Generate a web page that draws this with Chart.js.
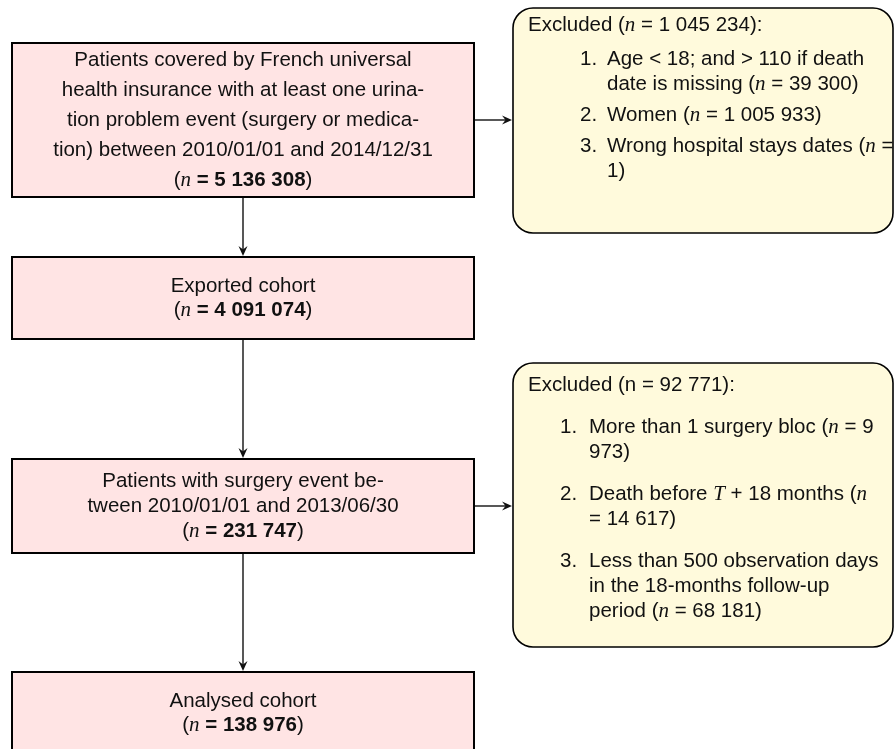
<!DOCTYPE html>
<html><head><meta charset="utf-8">
<script src="https://cdn.jsdelivr.net/npm/chart.js@4"></script>
<style>html,body{margin:0;padding:0;background:#fff}canvas{display:block}</style>
</head><body>
<canvas id="c" width="895" height="749"></canvas>
<script>
// ---- data ----
const stageTitles = [
  ["Patients covered by French universal", "health insurance with at least one urina-", "tion problem event (surgery or medica-", "tion) between 2010/01/01 and 2014/12/31"],
  ["Exported cohort"],
  ["Patients with surgery event be-", "tween 2010/01/01 and 2013/06/30"],
  ["Analysed cohort"]
];
const stageCounts = [5136308, 4091074, 231747, 138976];
const exclusionHeaders = ["Excluded ($n$ = {}):", "Excluded (n = {}):"];
const exclusionTotals = [1045234, 92771];
const exclusionItems = [
  [["Age < 18; and > 110 if death", "date is missing ($n$ = 39 300)"],
   ["Women ($n$ = 1 005 933)"],
   ["Wrong hospital stays dates ($n$ =", "1)"]],
  [["More than 1 surgery bloc ($n$ = 9", "973)"],
   ["Death before $T$ + 18 months ($n$", "= 14 617)"],
   ["Less than 500 observation days", "in the 18-months follow-up", "period ($n$ = 68 181)"]]
];

// ---- layout (scale units) ----
const stageBoxes = [
  {x0: 12, x1: 474, y0: 43, y1: 197, lineH: 30},
  {x0: 12, x1: 474, y0: 257, y1: 339, lineH: 24},
  {x0: 12, x1: 474, y0: 459, y1: 553, lineH: 25},
  {x0: 12, x1: 474, y0: 672, y1: 754, lineH: 24}
];
const exclBoxes = [
  {x0: 513, x1: 893, y0: 8, y1: 233, headX: 528, numX: 580, textX: 607, headY: 25, firstY: 59, lineH: 25, gap: 31, from: 0},
  {x0: 513, x1: 893, y0: 363, y1: 647, headX: 528, numX: 560, textX: 589, headY: 385, firstY: 427, lineH: 25, gap: 42, from: 2}
];
const FS = 20.5;
const SANS = "'Liberation Sans', Arial, Helvetica, sans-serif";
const SERIF = "'Liberation Serif', 'DejaVu Serif', serif";
const PINK = '#ffe4e4', YELLOW = '#fffadc';

const fmt = v => String(v).replace(/\B(?=(\d{3})+(?!\d))/g, ' ');

function segs(str) {
  const out = []; let bold = false;
  str.split(/(\*\*|\$[^$]+\$)/).forEach(p => {
    if (!p) return;
    if (p === '**') { bold = !bold; return; }
    if (p[0] === '$') out.push({t: p.slice(1, -1), f: `italic ${FS + 0.5}px ${SERIF}`});
    else out.push({t: p, f: `${bold ? 'bold ' : ''}${FS}px ${SANS}`});
  });
  return out;
}
function lineWidth(ctx, s) { return s.reduce((w, g) => { ctx.font = g.f; return w + ctx.measureText(g.t).width; }, 0); }
function drawRich(ctx, str, x, y, align) {
  const s = segs(str);
  let cx = align === 'center' ? x - lineWidth(ctx, s) / 2 : x;
  ctx.textBaseline = 'middle'; ctx.textAlign = 'left'; ctx.fillStyle = '#111';
  s.forEach(g => { ctx.font = g.f; ctx.fillText(g.t, cx, y); cx += ctx.measureText(g.t).width; });
}
function arrow(ctx, x0, y0, x1, y1) {
  ctx.save();
  ctx.strokeStyle = '#111'; ctx.fillStyle = '#111'; ctx.lineWidth = 1.4;
  const a = Math.atan2(y1 - y0, x1 - x0), L = 10, W = 4.5;
  ctx.beginPath(); ctx.moveTo(x0, y0); ctx.lineTo(x1 - Math.cos(a) * 5, y1 - Math.sin(a) * 5); ctx.stroke();
  ctx.translate(x1, y1); ctx.rotate(a);
  ctx.beginPath(); ctx.moveTo(0, 0); ctx.lineTo(-L, -W); ctx.lineTo(-L * 0.65, 0); ctx.lineTo(-L, W); ctx.closePath(); ctx.fill();
  ctx.restore();
}

const flowPlugin = {
  id: 'flow',
  afterDraw(chart) {
    const ctx = chart.ctx, X = v => chart.scales.x.getPixelForValue(v), Y = v => chart.scales.y.getPixelForValue(v);
    ctx.save();
    // stage boxes
    stageBoxes.forEach((b, i) => {
      const x0 = X(b.x0), x1 = X(b.x1), y0 = Y(b.y0), y1 = Y(b.y1);
      ctx.fillStyle = PINK; ctx.fillRect(x0, y0, x1 - x0, y1 - y0);
      ctx.strokeStyle = '#000'; ctx.lineWidth = 2; ctx.strokeRect(x0, y0, x1 - x0, y1 - y0);
      const lines = stageTitles[i].concat([`($n$ **= ${fmt(stageCounts[i])}**)`]);
      const cy = (y0 + y1) / 2, start = cy - (lines.length - 1) * b.lineH / 2;
      lines.forEach((l, k) => drawRich(ctx, l, (x0 + x1) / 2, start + k * b.lineH, 'center'));
    });
    // vertical arrows
    for (let i = 0; i < stageBoxes.length - 1; i++) {
      const a = stageBoxes[i], b = stageBoxes[i + 1], cx = X((a.x0 + a.x1) / 2);
      arrow(ctx, cx, Y(a.y1) + 1, cx, Y(b.y0) - 1);
    }
    // exclusion boxes
    exclBoxes.forEach((e, i) => {
      const x0 = X(e.x0), x1 = X(e.x1), y0 = Y(e.y0), y1 = Y(e.y1);
      ctx.beginPath(); ctx.roundRect(x0, y0, x1 - x0, y1 - y0, 20);
      ctx.fillStyle = YELLOW; ctx.fill(); ctx.strokeStyle = '#000'; ctx.lineWidth = 1.6; ctx.stroke();
      drawRich(ctx, exclusionHeaders[i].replace('{}', fmt(exclusionTotals[i])), X(e.headX), Y(e.headY), 'left');
      let y = e.firstY;
      exclusionItems[i].forEach((item, k) => {
        drawRich(ctx, (k + 1) + '.', X(e.numX), Y(y), 'left');
        item.forEach((l, j) => { if (j) y += e.lineH; drawRich(ctx, l, X(e.textX), Y(y), 'left'); });
        y += e.gap;
      });
      const src = stageBoxes[e.from], ay = Y((src.y0 + src.y1) / 2);
      arrow(ctx, X(src.x1) + 1, ay, x0 - 1, ay);
    });
    ctx.restore();
  }
};

new Chart(document.getElementById('c'), {
  type: 'scatter',
  data: {datasets: [{data: [], pointRadius: 0}]},
  options: {
    responsive: false, animation: false, events: [],
    layout: {padding: 0},
    plugins: {legend: {display: false}, tooltip: {enabled: false}},
    scales: {
      x: {type: 'linear', min: 0, max: 895, display: false},
      y: {type: 'linear', min: 0, max: 749, reverse: true, display: false}
    }
  },
  plugins: [flowPlugin]
});
</script>
</body></html>
